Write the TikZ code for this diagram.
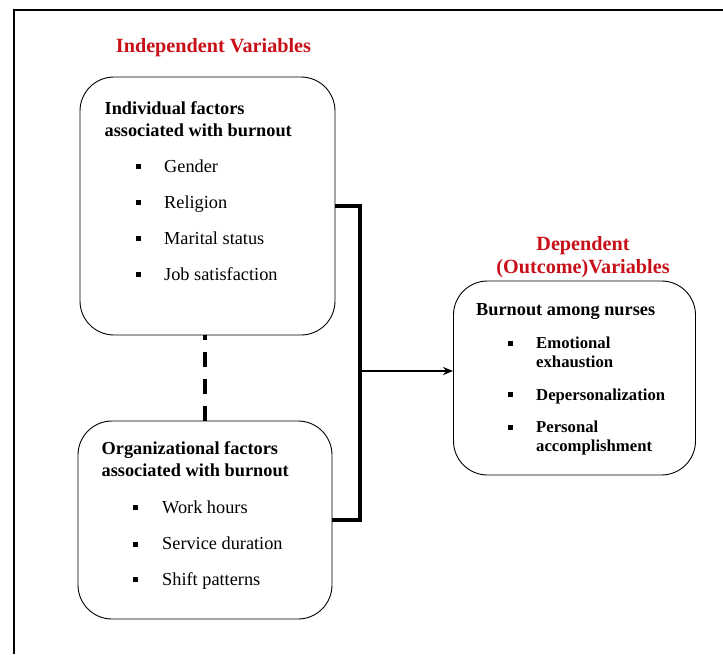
\documentclass[tikz,border=0pt]{standalone}
\usepackage{fontspec}
\setmainfont{Liberation Serif}
\usetikzlibrary{arrows.meta}
\definecolor{varred}{RGB}{200,16,24}
\newcommand{\sqbul}{\rule[3pt]{4.5pt}{5pt}}
\newcommand{\bitem}[2][28pt]{\makebox[#1][l]{\sqbul}#2}
\begin{document}
\begin{tikzpicture}[x=1pt, y=-1pt, >={Stealth[length=10pt, width=8pt]},
		box/.style={draw, rounded corners=34pt, line width=0.9pt, inner sep=0pt},
		txt/.style={anchor=base west, inner sep=0pt, font=\fontsize{18.3}{21}\selectfont},
		btxt/.style={txt, font=\fontsize{18.3}{21}\selectfont\bfseries},
		stxt/.style={txt, font=\fontsize{16.7}{19}\selectfont\bfseries},
		head/.style={anchor=base, inner sep=0pt, text=varred, font=\fontsize{20.2}{23}\selectfont\bfseries}]
	\useasboundingbox (0,0) rectangle (723,654);
	% outer frame
	\draw[line width=2.5pt] (14,654) -- (14,10) -- (723,10);
	
	% headings
	\node[head] (indephead) at (213.5,52) {Independent Variables};
	\node[head] (dephead1) at (583,250) {Dependent};
	\node[head] (dephead2) at (583,273.5) {(Outcome)Variables};
	
	% boxes
	\node[box, minimum width=255pt, minimum height=258pt] (indiv) at (207.5,206) {};
	\node[box, minimum width=254pt, minimum height=198pt] (org) at (205,520) {};
	\node[box, minimum width=242pt, minimum height=194pt] (burnout) at (574.5,378) {};
	
	% individual factors
	\node[btxt] (indivt1) at (104.5,114) {Individual factors};
	\node[btxt] (indivt2) at (104.5,136.5) {associated with burnout};
	\node[txt] (gender) at (136,172) {\bitem{Gender}};
	\node[txt] (religion) at (136,208.3) {\bitem{Religion}};
	\node[txt] (marital) at (136,244.3) {\bitem{Marital status}};
	\node[txt] (jobsat) at (136,280.3) {\bitem{Job satisfaction}};
	
	% organizational factors
	\node[btxt] (orgt1) at (101.5,454.3) {Organizational factors};
	\node[btxt] (orgt2) at (101.5,476.7) {associated with burnout};
	\node[txt] (workhrs) at (133,513.3) {\bitem[29pt]{Work hours}};
	\node[txt] (service) at (133,549.7) {\bitem[29pt]{Service duration}};
	\node[txt] (shift) at (133,585.3) {\bitem[29pt]{Shift patterns}};
	
	% outcome
	\node[btxt] (burnt) at (476,315) {Burnout among nurses};
	\node[stxt] (emo1) at (508,348.7) {\bitem{Emotional}};
	\node[stxt] (emo2) at (536,367.7) {exhaustion};
	\node[stxt] (deper) at (508,400.3) {\bitem{Depersonalization}};
	\node[stxt] (pers1) at (508,432.7) {\bitem{Personal}};
	\node[stxt] (pers2) at (536,451.7) {accomplishment};
	
	% connectors
	\coordinate (junc) at (360,371);
	\draw[line width=3.4pt, dash pattern=on 15pt off 12pt] (org.north) -- (org.north |- indiv.south);
	\draw[line width=3.4pt] (indiv.east) -| (junc |- org.east) -- (org.east);
	\draw[->, line width=2pt] (junc) -- (junc -| burnout.west);
\end{tikzpicture}
\end{document}
